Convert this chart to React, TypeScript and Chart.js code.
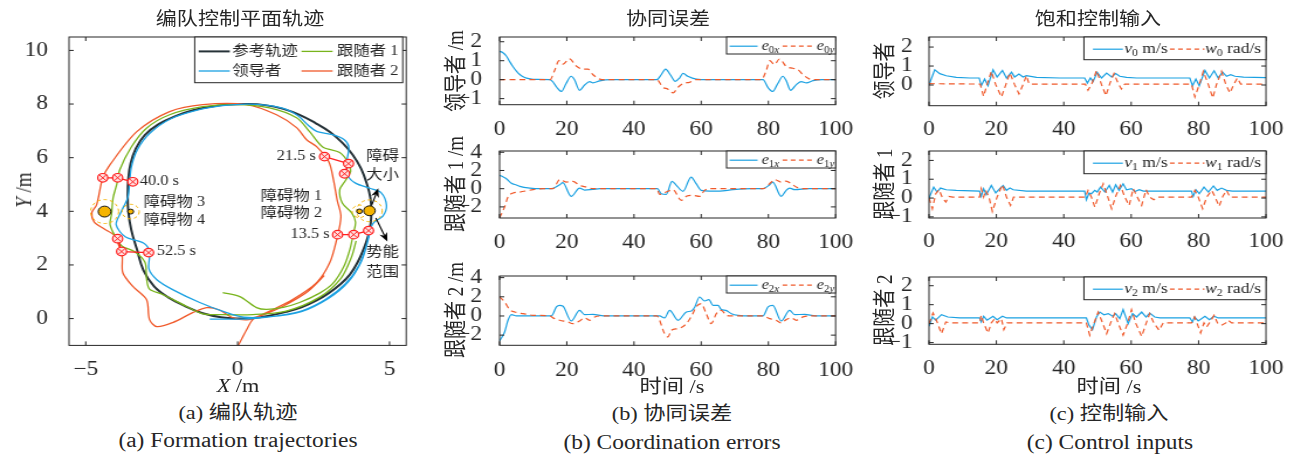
import React, { useEffect, useRef } from 'react';
import { Chart, registerables } from 'chart.js';

Chart.register(...registerables);

const S = 1.17;
const SERIF = '"Liberation Serif", "Noto Sans CJK SC", serif';
const INK = '#262626';
const BLUE = '#1ba1e2';
const ORANGE = '#f0592a';
const GREEN = '#78b41c';
const DARK = '#263238';
const RED = '#ff1f1f';
const GOLD = '#f5b400';

// ---------------- trajectories (X, Y in m) ----------------
const REF_TRAJ = [[0,0],[0.5,0.02],[1.0,0.1],[1.6,0.25],[2.1,0.42],[2.6,0.68],[3.0,0.95],[3.4,1.3],[3.7,1.65],[3.95,2.1],[4.15,2.6],[4.3,3.1],[4.38,3.55],[4.4,4.0],[4.37,4.5],[4.26,5.0],[4.06,5.6],[3.78,6.12],[3.45,6.55],[3.05,6.95],[2.55,7.3],[2.04,7.6],[1.5,7.82],[0.9,7.96],[0.3,8.0],[-0.3,7.98],[-0.9,7.9],[-1.5,7.76],[-2.05,7.55],[-2.6,7.25],[-3.05,6.85],[-3.35,6.35],[-3.52,5.8],[-3.6,5.2],[-3.62,4.6],[-3.6,4.0],[-3.5,3.3],[-3.32,2.6],[-3.1,1.8],[-2.75,1.2],[-2.3,0.8],[-1.7,0.45],[-1.15,0.2],[-0.55,0.05],[0,0]];
const LEADER_TRAJ = [[-0.92,-0.02],[-0.3,-0.02],[0.5,0.0],[1.3,0.1],[2.14,0.3],[2.9,0.72],[3.55,1.3],[4.0,2.0],[4.26,2.8],[4.34,3.25],[4.48,3.58],[4.78,3.82],[4.9,4.22],[4.72,4.7],[4.35,4.86],[3.88,5.05],[3.62,5.35],[3.6,5.9],[3.66,6.4],[3.5,6.68],[3.12,6.86],[2.62,6.97],[2.35,7.18],[2.0,7.55],[1.6,7.8],[1.0,7.95],[0.3,8.0],[-0.5,7.94],[-1.3,7.78],[-2.2,7.45],[-2.9,6.9],[-3.3,6.3],[-3.5,5.65],[-3.56,5.0],[-3.62,4.5],[-3.85,3.95],[-4.0,3.5],[-3.7,3.05],[-3.1,2.82],[-2.9,2.5],[-2.92,1.85],[-2.66,1.45],[-2.14,1.08],[-1.25,0.6],[-0.36,0.22],[0.2,0.05],[1.0,0.06],[2.1,0.26],[3.0,0.76],[3.65,1.38],[4.08,2.15],[4.3,2.95],[4.36,3.3]];
const F1_TRAJ = [[-0.49,0.97],[0.07,0.82],[0.62,0.41],[0.95,0.34],[1.5,0.42],[2.04,0.6],[2.7,0.95],[3.13,1.3],[3.5,1.95],[3.7,2.6],[3.8,3.13],[3.88,3.6],[3.75,3.95],[3.45,4.3],[3.36,4.8],[3.55,5.15],[3.72,5.5],[3.65,5.8],[3.36,6.19],[2.8,6.4],[2.37,6.97],[1.94,7.49],[1.05,7.86],[-0.03,7.98],[-1.15,7.9],[-2.24,7.6],[-3.0,7.1],[-3.5,6.4],[-3.88,5.55],[-3.98,5.0],[-4.1,4.5],[-4.15,3.9],[-4.2,3.5],[-4.0,3.0],[-3.8,2.7],[-3.4,2.5],[-3.05,2.1],[-3.0,1.5],[-2.9,1.1],[-2.47,0.9],[-1.68,0.45],[-1.15,0.18],[-0.6,0.15],[0.5,0.15],[1.6,0.28],[2.7,0.8],[3.4,1.5],[3.75,2.3],[3.9,2.9]];
const F2_TRAJ = [[0.02,-1.0],[0.3,-0.41],[0.5,-0.04],[0.95,0.22],[1.81,0.71],[2.6,1.34],[3.03,2.08],[3.25,2.9],[3.4,3.8],[3.28,4.4],[3.15,5.2],[3.0,5.85],[2.6,6.41],[2.27,6.67],[1.94,7.12],[1.28,7.6],[0.3,7.98],[-1.15,7.98],[-2.24,7.72],[-3.32,6.97],[-4.2,5.74],[-4.44,5.25],[-4.64,4.25],[-4.8,3.95],[-4.72,3.6],[-4.4,3.35],[-4.05,3.1],[-3.92,2.75],[-3.8,2.35],[-3.78,1.71],[-3.45,1.2],[-3.0,0.71],[-2.9,-0.04],[-2.66,-0.3],[-2.14,-0.15],[-1.48,0.22],[-1.02,0.41],[-0.6,0.32],[-0.2,0.05],[0.3,-0.05],[0.8,0.12],[1.48,0.45],[2.3,1.0],[2.85,1.6]];

// formation snapshots (follower 2, follower 1, leader)
const SNAP_13_5 = [[3.29,3.13],[3.82,3.13],[4.31,3.28]];
const SNAP_21_5 = [[2.86,6.04],[3.65,5.78],[3.52,5.4]];
const SNAP_40_0 = [[-4.44,5.25],[-3.95,5.25],[-3.45,5.1]];
const SNAP_52_5 = [[-3.95,2.98],[-3.82,2.5],[-2.93,2.46]];

// obstacles: centre x, y, radius, potential range (m)
const OBSTACLES = [[4.34,4.02,0.19,0.42],[4.01,4.0,0.09,0.24],[-4.38,3.99,0.21,0.46],[-3.52,3.99,0.095,0.28]];

const NOTES = [
  ['21.5 s', 2.57, 6.04, 'right'],
  ['13.5 s', 3.03, 3.13, 'right'],
  ['40.0 s', -3.22, 5.1, 'left'],
  ['52.5 s', -2.66, 2.5, 'left'],
  ['障碍物 3', -3.09, 4.32, 'left'],
  ['障碍物 4', -3.09, 3.65, 'left'],
  ['障碍物 1', 0.76, 4.55, 'left'],
  ['障碍物 2', 0.76, 3.91, 'left'],
  ['障碍', 4.77, 6.04, 'center'],
  ['大小', 4.77, 5.33, 'center'],
  ['势能', 4.77, 2.46, 'center'],
  ['范围', 4.77, 1.71, 'center'],
];
const ARROWS = [[4.42,4.25,4.63,4.86],[4.55,3.75,4.93,2.87]];

const TRAJ_X_TICKS = [-5, 0, 5];
const TRAJ_Y_TICKS = [0, 2, 4, 6, 8, 10];
const TIME_TICKS = [0, 20, 40, 60, 80, 100];

// ---------------- coordination errors (t [s], value [m]) ----------------
const E0X = [[0,1.5],[1,1.42],[2,1.25],[3,0.95],[4,0.68],[5,0.45],[6,0.27],[7,0.15],[8,0.08],[10,0.02],[15,0],[16,-0.15],[17,-0.4],[18.4,-0.62],[19.8,-0.2],[21.3,0.18],[22.3,0.0],[23.8,-0.56],[25.3,-0.28],[26.8,-0.1],[27.8,-0.17],[29.8,-0.06],[33,0],[46.8,0],[48.1,0.26],[49.4,0.56],[50.8,0.26],[52.3,-0.09],[53.6,0.1],[54.6,0.33],[56,0.18],[58.5,0.03],[62,0],[78.4,0],[79.9,-0.42],[81.3,-0.62],[82.8,-0.2],[84.3,0.18],[85.3,-0.05],[86.6,-0.56],[88.3,-0.26],[89.8,-0.1],[91.3,-0.17],[93.3,-0.05],[96,0],[100,0]];
const E0Y = [[0,0],[15,0],[16.4,0.5],[17.7,1.0],[18.9,0.82],[20.8,1.1],[22.8,0.72],[24.8,0.55],[26.3,0.56],[27.8,0.26],[29.8,0.03],[31,0],[46.8,0],[48.6,-0.4],[50.1,-0.5],[51.6,-0.7],[53.1,-0.4],[54.6,-0.2],[56.5,-0.14],[58.5,0],[77.9,0],[79.4,0.5],[80.4,1.0],[81.8,0.8],[83.3,1.09],[85.3,0.7],[87.3,0.6],[88.8,0.52],[90.3,0.26],[92.3,0.03],[93.5,0],[100,0]];
const E1X = [[0,1.47],[1,1.3],[2,1.1],[3.5,0.6],[5,0.4],[6,0.26],[9,0.07],[12,0],[15.4,0],[17.9,0.44],[18.8,0.66],[21.3,-0.84],[23.8,0.07],[25.3,-0.15],[27.8,-0.07],[30,0],[47,0],[48.1,-0.55],[49.6,-0.62],[51.3,0.8],[52.6,0.37],[54.6,-0.29],[57,1.28],[58.5,0.55],[60,-0.18],[62.5,-0.26],[65.5,-0.26],[69.4,-0.11],[75,0],[78.4,0],[80.4,0.44],[81.3,0.73],[83.8,-0.84],[85.3,-0.18],[86.3,0.07],[87.8,-0.11],[92,0],[100,0]];
const E1Y = [[0,-3.2],[1.5,-2.0],[2.5,-0.9],[4,-0.48],[6,-0.37],[10,-0.11],[13,0],[15.9,0],[17.9,1.0],[19.8,0.73],[21.8,0.8],[23.8,0.37],[25.8,0.18],[27.8,0],[46.8,0],[47.6,-0.62],[49.6,-0.37],[51.6,-0.11],[54.1,-1.28],[55.6,-0.84],[57.5,-0.73],[59.5,-0.84],[61,-0.18],[62.5,0],[78.4,0],[80.9,0.73],[81.8,1.0],[83.8,0.73],[85.3,0.84],[86.8,0.55],[88.3,0.18],[90.3,0],[100,0]];
const E2X = [[0,-2.6],[1.5,-1.67],[2.5,-0.45],[3.5,0.14],[5,0],[15.4,0],[16.9,0.94],[17.9,1.1],[18.8,1.04],[21.3,-0.52],[23.8,0.59],[25.3,0.14],[27.8,0.17],[31,0],[47.6,0],[49.1,-0.2],[50.6,0.59],[53.1,-0.45],[55.6,0.42],[57.1,0.52],[58.1,0.94],[59.5,1.98],[61,1.56],[62.3,1.7],[63.5,1.1],[65,1.1],[66,0.66],[67.3,0.59],[69,0.24],[71,0.07],[75,0],[78.4,0],[79.9,0.94],[81.3,1.1],[83.8,-0.52],[86.3,0.59],[87.8,0.14],[90.8,0.17],[94,0],[100,0]];
const E2Y = [[0,2.0],[1.5,1.46],[3,0.66],[4.5,0.42],[7,0.24],[10,0.07],[15,0],[15.9,-0.2],[17.9,-0.45],[20.3,-0.62],[21.8,-0.8],[23.8,-0.52],[25.3,-0.2],[26.8,-0.45],[28.3,-0.1],[30,0],[46.8,0],[49.1,-1.84],[50.1,-2.19],[51.1,-1.49],[53.1,-1.32],[55.6,-0.8],[57.5,0.24],[58.5,0.94],[60,1.28],[61.5,0.24],[63,-0.8],[64.5,0.24],[66,0.59],[67.5,0.07],[69,0],[78.4,0],[80.4,-0.28],[82.3,-0.45],[83.8,-0.73],[85.3,-0.38],[86.8,-0.2],[88.3,-0.45],[90.3,-0.1],[92,0],[100,0]];

// ---------------- saturated control inputs (t [s], v [m/s], w [rad/s]) ----------------
const V0 = [[0,0],[1.7,0.8],[3.2,0.6],[5.1,0.49],[8.1,0.4],[12.1,0.37],[14.9,0.37],[15.5,-0.04],[16.5,0.32],[17.5,-0.04],[19,0.8],[20.2,0.42],[21.8,0.77],[23,0.37],[24.5,0.68],[25.4,0.42],[26.7,0.58],[27.9,0.42],[28.9,0.49],[31.9,0.4],[38.8,0.37],[46.2,0.37],[47,0.1],[47.9,0.37],[48.7,0.19],[49.9,0.67],[51.2,0.37],[52.7,0.63],[54.2,0.42],[55.4,0.6],[56.6,0.46],[58.6,0.4],[61.6,0.37],[77.4,0.37],[78.2,-0.04],[79.2,0.32],[80.2,-0.04],[81.9,0.77],[83.2,0.37],[84.6,0.75],[85.8,0.37],[87.1,0.68],[88.3,0.46],[89.5,0.54],[90.8,0.46],[93.3,0.42],[100,0.39]];
const W0 = [[0,0.07],[15.2,0.05],[16.2,-0.6],[17.2,0.02],[18.5,0.72],[19.8,0.02],[21.5,-0.63],[22.8,0.02],[24,0.63],[25.4,0.02],[26.7,-0.47],[27.9,0.02],[28.9,0.49],[29.7,0.05],[46.4,0.05],[47.2,-0.28],[48.4,0.1],[49.7,0.77],[51.2,0.02],[52.5,-0.56],[53.7,0.1],[54.9,0.6],[56.1,0.1],[57.1,-0.21],[58.1,0.05],[77.9,0.05],[78.9,-0.63],[80.2,0.02],[81.4,0.72],[82.9,0.02],[84.2,-0.68],[85.3,0.02],[86.8,0.72],[88.1,0.02],[89.3,-0.42],[90.5,0.05],[91.5,0.37],[92.5,0.05],[100,0.05]];
const V1 = [[0,0],[1.4,0.58],[2.4,0.32],[3.4,0.53],[5.1,0.44],[8.1,0.41],[15,0.37],[15.5,0.09],[16.2,0.5],[17,0.18],[18.5,0.67],[19.8,0.27],[21,0.5],[22,0.67],[23,0.41],[24,0.53],[25,0.44],[28.9,0.37],[46.2,0.37],[46.7,-0.09],[47.5,0.27],[48.2,0.23],[49.2,0.41],[49.9,0.32],[50.9,0.58],[52.2,0.32],[53.5,0.67],[54.5,0.32],[55.4,0.71],[56.4,0.41],[57.6,0.76],[58.6,0.44],[60.1,0.5],[61.1,0.35],[62.4,0.44],[63.6,0.37],[77.9,0.37],[78.4,0.09],[79.2,0.44],[80.2,0.23],[81.6,0.58],[82.9,0.32],[84.4,0.64],[85.5,0.41],[86.8,0.53],[88.3,0.41],[90,0.37],[100,0.37]];
const W1 = [[0,0],[1,-0.57],[2,0.23],[3,0.44],[4,0],[5,-0.21],[5.9,0.09],[7,0.05],[15,0.05],[15.5,0.5],[16.2,0.05],[16.8,0.41],[17.8,0.05],[18.8,-0.71],[20.2,0.05],[21.8,0.71],[23,0.05],[24.2,-0.39],[25.1,0.05],[46.4,0.05],[47.2,0.41],[48.2,0.05],[49.2,-0.48],[50.5,0.23],[51.7,0.76],[52.9,0.14],[54.2,-0.57],[55.5,0.14],[56.8,0.67],[58.1,0.05],[59.4,-0.39],[60.6,0.5],[61.8,0.05],[63.1,-0.39],[64.4,0.44],[65.5,0.05],[66.7,-0.09],[68,0.05],[77.9,0.05],[78.9,0.41],[79.9,0.05],[81.2,-0.57],[82.4,0.05],[83.9,0.41],[84.9,0.05],[86.1,-0.44],[87.2,0.1],[88.3,0.41],[89.3,0.05],[100,0.05]];
const V2 = [[0,-0.14],[1,0.35],[2,0.18],[3.7,0.47],[5.6,0.35],[9.1,0.3],[15,0.3],[15.5,0.09],[16.2,0.39],[17.2,0.18],[19,0.39],[20.2,0.21],[21.8,0.39],[23,0.3],[46.7,0.3],[47.5,-0.09],[48.5,-0.32],[49.7,0.35],[50.7,0.61],[51.9,0.47],[53.2,0.53],[54.5,0.39],[55.4,0.53],[56.6,0.26],[57.6,0.74],[59.1,0],[60.4,0.53],[61.6,0.35],[63.1,0.61],[64.4,0.35],[65.5,0.56],[67,0.35],[68.5,0.3],[77.4,0.3],[78.2,0.09],[78.8,0.35],[79.9,0.14],[81.9,0.39],[83.2,0.21],[84.6,0.39],[85.8,0.3],[100,0.3]];
const W2 = [[0,0],[1.2,0.56],[2.4,0.09],[3.7,-0.53],[5,0.09],[6.1,0.04],[15,0.04],[15.5,0.44],[16.2,0.04],[17.5,-0.49],[18.5,0.04],[19.5,0.26],[20.2,0.04],[21.5,0.26],[22.2,-0.32],[23.2,0.04],[46.7,0.04],[47.7,-0.61],[49,0.04],[50.2,0.61],[51.5,0.04],[52.7,-0.53],[53.9,0.04],[55.1,0.53],[56.4,-0.09],[57.6,-0.61],[58.9,0.0],[60.1,0.74],[61.4,0.0],[63.1,-0.67],[64.4,0.0],[65.5,0.53],[66.7,0.04],[68.3,-0.35],[69.5,0.04],[77.9,0.04],[78.8,0.35],[79.5,0.04],[80.6,-0.49],[81.6,0.04],[82.4,-0.18],[83.2,0.04],[84.6,0.44],[85.6,0.04],[86.8,-0.09],[88.1,0.04],[88.8,0.18],[89.8,0.04],[100,0.04]];

// ---------------- helpers ----------------
const toXY = (a: number[][]) => a.map(([x, y]) => ({ x, y }));
const fmt = (v: number) => (v < 0 ? '\u2212' + Math.abs(v) : String(v));

const boxPlugin = {
  id: 'matlabBox',
  afterDraw(chart: any) {
    const { ctx, chartArea: a, scales } = chart;
    const xs = scales.x, ys = scales.y;
    const L = 4;
    ctx.save();
    ctx.strokeStyle = INK;
    ctx.lineWidth = 1;
    ctx.beginPath();
    xs.ticks.forEach((t: any) => {
      const p = xs.getPixelForValue(t.value);
      ctx.moveTo(p, a.bottom); ctx.lineTo(p, a.bottom - L);
      ctx.moveTo(p, a.top); ctx.lineTo(p, a.top + L);
    });
    ys.ticks.forEach((t: any) => {
      const p = ys.getPixelForValue(t.value);
      ctx.moveTo(a.left, p); ctx.lineTo(a.left + L, p);
      ctx.moveTo(a.right, p); ctx.lineTo(a.right - L, p);
    });
    ctx.stroke();
    ctx.strokeRect(a.left, a.top, a.right - a.left, a.bottom - a.top);
    ctx.restore();
  },
};

function legendPlugin(spec: any) {
  return {
    id: 'boxLegend',
    afterDraw(chart: any) {
      const { ctx, chartArea: a } = chart;
      const bx = a.right - spec.right - spec.w;
      const by = a.top + spec.top;
      ctx.save();
      ctx.fillStyle = '#fff';
      ctx.fillRect(bx, by, spec.w, spec.h);
      ctx.strokeStyle = INK;
      ctx.lineWidth = 1;
      ctx.strokeRect(bx, by, spec.w, spec.h);
      spec.items.forEach((it: any) => {
        const y = by + it.y;
        ctx.strokeStyle = it.color;
        ctx.lineWidth = it.lw;
        ctx.setLineDash(it.dash || []);
        ctx.beginPath();
        ctx.moveTo(bx + it.sx, y);
        ctx.lineTo(bx + it.sx + it.len, y);
        ctx.stroke();
        ctx.setLineDash([]);
        let cx = bx + it.tx;
        ctx.fillStyle = INK;
        ctx.textBaseline = 'middle';
        ctx.textAlign = 'left';
        it.segs.forEach((sg: any) => {
          const size = sg.sub ? spec.sub : spec.size;
          ctx.font = `${sg.it ? 'italic ' : ''}${size}px ${SERIF}`;
          ctx.fillText(sg.t, cx, y + (sg.sub ? spec.size * 0.3 : 0));
          cx += ctx.measureText(sg.t).width;
        });
      });
      ctx.restore();
    },
  };
}

const trajAnnotations = {
  id: 'trajAnnotations',
  afterDatasetsDraw(chart: any) {
    const { ctx, scales } = chart;
    const xs = scales.x, ys = scales.y;
    const px = (v: number) => xs.getPixelForValue(v);
    const py = (v: number) => ys.getPixelForValue(v);
    ctx.save();
    OBSTACLES.forEach(([ox, oy, r, rr]) => {
      const cx = px(ox), cy = py(oy);
      const R = Math.abs(px(ox + rr) - cx);
      ctx.setLineDash([3, 2.5]);
      ctx.strokeStyle = GOLD;
      ctx.lineWidth = 1;
      ctx.beginPath();
      ctx.arc(cx, cy, R, 0, Math.PI * 2);
      ctx.stroke();
    });
    ctx.setLineDash([]);
    OBSTACLES.forEach(([ox, oy, r]) => {
      const cx = px(ox), cy = py(oy);
      const R = Math.abs(px(ox + r) - cx);
      ctx.fillStyle = GOLD;
      ctx.strokeStyle = '#111';
      ctx.lineWidth = 1;
      ctx.beginPath();
      ctx.arc(cx, cy, R, 0, Math.PI * 2);
      ctx.fill();
      ctx.stroke();
    });
    ARROWS.forEach(([x0, y0, x1, y1]) => {
      const a0 = px(x0), b0 = py(y0), a1 = px(x1), b1 = py(y1);
      const ang = Math.atan2(b1 - b0, a1 - a0);
      const hl = 9, hw = 3.5;
      ctx.strokeStyle = '#000';
      ctx.fillStyle = '#000';
      ctx.lineWidth = 1.1;
      ctx.beginPath();
      ctx.moveTo(a0, b0);
      ctx.lineTo(a1 - Math.cos(ang) * hl * 0.7, b1 - Math.sin(ang) * hl * 0.7);
      ctx.stroke();
      ctx.beginPath();
      ctx.moveTo(a1, b1);
      ctx.lineTo(a1 - Math.cos(ang) * hl + Math.sin(ang) * hw, b1 - Math.sin(ang) * hl - Math.cos(ang) * hw);
      ctx.lineTo(a1 - Math.cos(ang) * hl * 0.7, b1 - Math.sin(ang) * hl * 0.7);
      ctx.lineTo(a1 - Math.cos(ang) * hl - Math.sin(ang) * hw, b1 - Math.sin(ang) * hl + Math.cos(ang) * hw);
      ctx.closePath();
      ctx.fill();
    });
    ctx.fillStyle = INK;
    ctx.font = `14px ${SERIF}`;
    ctx.textBaseline = 'middle';
    NOTES.forEach(([t, x, y, al]) => {
      ctx.textAlign = al as CanvasTextAlign;
      ctx.fillText(t as string, px(x as number), py(y as number));
    });
    ctx.restore();
  },
};

const lineDs = (data: number[][], color: string, width: number, dash: number[] = [], extra: any = {}) => ({
  data: toXY(data),
  showLine: true,
  borderColor: color,
  backgroundColor: color,
  borderWidth: width,
  borderDash: dash,
  pointRadius: 0,
  fill: false,
  ...extra,
});
const snapLine = (data: number[][]) => ({
  data: toXY(data),
  showLine: true,
  borderColor: RED,
  borderWidth: 1.3,
  pointRadius: 4.3,
  pointStyle: 'circle',
  pointBorderColor: RED,
  pointBackgroundColor: '#ffe0e0',
  pointBorderWidth: 1.2,
});
const snapCross = (data: number[][]) => ({
  data: toXY(data),
  showLine: false,
  pointRadius: 4.2,
  pointStyle: 'crossRot',
  pointBorderColor: RED,
  pointBorderWidth: 1,
});

type Spec = {
  L: number; T: number; R: number; B: number;
  xMin: number; xMax: number; yMin: number; yMax: number;
  xTicks: number[]; yTicks: number[]; xPad: number; yPad: number;
  datasets: () => any[]; legend: any; extra?: any[];
};

const YW = 50, PT = 22, XH = 36;

function geom(s: Spec) {
  const plotW = (s.R - s.L) / S;
  const plotH = s.B - s.T;
  const left = s.L / S - YW;
  const top = s.T - PT;
  const w = Math.ceil(YW + plotW + 30);
  const pr = w - YW - plotW;
  const h = Math.ceil(PT + plotH + XH + 4);
  const pb = h - PT - plotH - XH;
  return { left, top, w, h, pr, pb };
}

function makeConfig(s: Spec): any {
  const g = geom(s);
  const tickFont = { family: SERIF, size: 20 };
  return {
    type: 'scatter',
    data: { datasets: s.datasets() },
    options: {
      animation: false,
      responsive: false,
      events: [],
      layout: { padding: { left: 0, top: PT, right: g.pr, bottom: g.pb }, autoPadding: false },
      plugins: { legend: { display: false }, tooltip: { enabled: false }, title: { display: false } },
      scales: {
        x: {
          type: 'linear', min: s.xMin, max: s.xMax,
          afterBuildTicks: (sc: any) => { sc.ticks = s.xTicks.map((v) => ({ value: v })); },
          afterFit: (sc: any) => { sc.height = XH; },
          grid: { display: false }, border: { display: false },
          ticks: { font: tickFont, color: INK, padding: s.xPad, maxRotation: 0, autoSkip: false, callback: (v: any) => fmt(Number(v)) },
        },
        y: {
          type: 'linear', min: s.yMin, max: s.yMax,
          afterBuildTicks: (sc: any) => { sc.ticks = s.yTicks.map((v) => ({ value: v })); },
          afterFit: (sc: any) => { sc.width = YW; },
          grid: { display: false }, border: { display: false },
          ticks: { font: tickFont, color: INK, padding: s.yPad, autoSkip: false, callback: (v: any) => fmt(Number(v)) },
        },
      },
    },
    plugins: [...(s.extra || []), boxPlugin, legendPlugin(s.legend)],
  };
}

const trajLegend = {
  w: 177.8, h: 45.7, right: 3, top: 0, size: 14, sub: 10,
  items: [
    { sx: 3.4, len: 26.6, tx: 32, y: 14.4, color: DARK, lw: 2, segs: [{ t: '参考轨迹' }] },
    { sx: 91.3, len: 26.6, tx: 121.5, y: 14.4, color: GREEN, lw: 1.3, segs: [{ t: '跟随者 1' }] },
    { sx: 3.4, len: 26.6, tx: 32, y: 34, color: BLUE, lw: 1.3, segs: [{ t: '领导者' }] },
    { sx: 91.3, len: 26.6, tx: 121.5, y: 34, color: ORANGE, lw: 1.3, segs: [{ t: '跟随者 2' }] },
  ],
};
const errLegend = (k: string) => ({
  w: 93.2, h: 17, right: 0, top: 0, size: 14, sub: 9.5,
  items: [
    { sx: 2.6, len: 23.9, tx: 29.9, y: 9.2, color: BLUE, lw: 1.2, segs: [{ t: 'e', it: true }, { t: k, sub: true }, { t: 'x', sub: true, it: true }] },
    { sx: 47.9, len: 27.3, tx: 77, y: 9.2, color: ORANGE, lw: 1.2, dash: [4, 3], segs: [{ t: 'e', it: true }, { t: k, sub: true }, { t: 'y', sub: true, it: true }] },
  ],
});
const ctlLegend = (k: string) => ({
  w: 155.6, h: 22.7, right: 0, top: 0, size: 15, sub: 10,
  items: [
    { sx: 7.7, len: 25.6, tx: 34.5, y: 12.2, color: BLUE, lw: 1.2, segs: [{ t: 'v', it: true }, { t: k, sub: true }, { t: ' m/s' }] },
    { sx: 73.5, len: 29.5, tx: 103.6, y: 12.2, color: ORANGE, lw: 1.2, dash: [4, 3], segs: [{ t: 'w', it: true }, { t: k, sub: true }, { t: ' rad/s' }] },
  ],
});

const errSeries = (x: number[][], y: number[][]) => () => [
  lineDs(y, ORANGE, 1.2, [5, 3.5], { cubicInterpolationMode: 'monotone' }),
  lineDs(x, BLUE, 1.2, [], { cubicInterpolationMode: 'monotone' }),
];
const ctlSeries = (v: number[][], w: number[][]) => () => [
  lineDs(w, ORANGE, 1.2, [5, 3.5]),
  lineDs(v, BLUE, 1.2),
];

const SPECS: Spec[] = [
  {
    L: 69.3, T: 37.3, R: 406.5, B: 345.7, xMin: -5.55, xMax: 5.55, yMin: -1, yMax: 10.5,
    xTicks: TRAJ_X_TICKS, yTicks: TRAJ_Y_TICKS, xPad: 4, yPad: 10,
    datasets: () => [
      snapCross(SNAP_13_5), snapCross(SNAP_21_5), snapCross(SNAP_40_0), snapCross(SNAP_52_5),
      snapLine(SNAP_13_5), snapLine(SNAP_21_5), snapLine(SNAP_40_0), snapLine(SNAP_52_5),
      lineDs(LEADER_TRAJ, BLUE, 1.3, [], { tension: 0.3 }),
      lineDs(F1_TRAJ, GREEN, 1.3, [], { tension: 0.3 }),
      lineDs(F2_TRAJ, ORANGE, 1.3, [], { tension: 0.3 }),
      lineDs(REF_TRAJ, DARK, 2, [], { tension: 0.4 }),
    ],
    legend: trajLegend,
    extra: [trajAnnotations],
  },
  { L: 500, T: 37.3, R: 836, B: 105, xMin: 0, xMax: 100, yMin: -1.32, yMax: 2.25, xTicks: TIME_TICKS, yTicks: [-1, 0, 1, 2], xPad: 5, yPad: 7, datasets: errSeries(E0X, E0Y), legend: errLegend('0') },
  { L: 500, T: 150.7, R: 836, B: 217.7, xMin: 0, xMax: 100, yMin: -3.22, yMax: 4.14, xTicks: TIME_TICKS, yTicks: [-2, 0, 2, 4], xPad: 5, yPad: 7, datasets: errSeries(E1X, E1Y), legend: errLegend('1') },
  { L: 500, T: 275.7, R: 836, B: 345, xMin: 0, xMax: 100, yMin: -3.06, yMax: 4.17, xTicks: TIME_TICKS, yTicks: [-2, 0, 2, 4], xPad: 5, yPad: 7, datasets: errSeries(E2X, E2Y), legend: errLegend('2') },
  { L: 929, T: 37.3, R: 1266, B: 106, xMin: 0, xMax: 100, yMin: -1.09, yMax: 2.53, xTicks: TIME_TICKS, yTicks: [0, 1, 2], xPad: 4, yPad: 6, datasets: ctlSeries(V0, W0), legend: ctlLegend('0') },
  { L: 929, T: 150.7, R: 1266, B: 217.7, xMin: 0, xMax: 100, yMin: -1.06, yMax: 2.5, xTicks: TIME_TICKS, yTicks: [-1, 0, 1, 2], xPad: 4, yPad: 6, datasets: ctlSeries(V1, W1), legend: ctlLegend('1') },
  { L: 929, T: 276.7, R: 1266, B: 344, xMin: 0, xMax: 100, yMin: -1.09, yMax: 2.46, xTicks: TIME_TICKS, yTicks: [-1, 0, 1, 2], xPad: 4, yPad: 6, datasets: ctlSeries(V2, W2), legend: ctlLegend('2') },
];

// text placed in page coordinates (x measured after the horizontal stretch)
const TEXTS: { t: React.ReactNode; cx: number; cy: number; fs: number; rot?: boolean }[] = [
  { t: '编队控制平面轨迹', cx: 240, cy: 19, fs: 18 },
  { t: '协同误差', cx: 668, cy: 19, fs: 18 },
  { t: '饱和控制输入', cx: 1098, cy: 19, fs: 18 },
  { t: <><i>X</i> /m</>, cx: 238, cy: 385, fs: 19 },
  { t: '时间 /s', cx: 672, cy: 386, fs: 19 },
  { t: '时间 /s', cx: 1109, cy: 386, fs: 19 },
  { t: '(a) 编队轨迹', cx: 238, cy: 412, fs: 19 },
  { t: '(a) Formation trajectories', cx: 238, cy: 440, fs: 20 },
  { t: '(b) 协同误差', cx: 672, cy: 413, fs: 19 },
  { t: '(b) Coordination errors', cx: 672, cy: 442, fs: 20 },
  { t: '(c) 控制输入', cx: 1109, cy: 413, fs: 19 },
  { t: '(c) Control inputs', cx: 1110, cy: 442, fs: 20 },
  { t: <><i>Y</i> /m</>, cx: 23, cy: 190, fs: 19, rot: true },
  { t: '领导者 /m', cx: 455, cy: 71, fs: 19, rot: true },
  { t: '跟随者 1 /m', cx: 455, cy: 184, fs: 19, rot: true },
  { t: '跟随者 2 /m', cx: 455, cy: 310, fs: 19, rot: true },
  { t: '领导者', cx: 885, cy: 71, fs: 19, rot: true },
  { t: '跟随者 1', cx: 885, cy: 184, fs: 19, rot: true },
  { t: '跟随者 2', cx: 885, cy: 310, fs: 19, rot: true },
];

function ChartBox({ spec }: { spec: Spec }) {
  const ref = useRef<HTMLCanvasElement>(null);
  const g = geom(spec);
  useEffect(() => {
    const chart = new Chart(ref.current as HTMLCanvasElement, makeConfig(spec));
    return () => chart.destroy();
  }, [spec]);
  return (
    <canvas
      ref={ref}
      width={g.w}
      height={g.h}
      style={{ position: 'absolute', left: g.left, top: g.top, width: g.w, height: g.h }}
    />
  );
}

export default function App() {
  return (
    <div
      style={{
        position: 'fixed', left: 0, top: 0, width: 1293 / S, height: 457,
        transform: `scaleX(${S})`, transformOrigin: '0 0', background: '#fff',
        fontFamily: SERIF, color: INK, overflow: 'hidden',
      }}
    >
      {SPECS.map((s, i) => <ChartBox key={i} spec={s} />)}
      {TEXTS.map((tx, i) => (
        <div
          key={'t' + i}
          style={{
            position: 'absolute', left: tx.cx / S, top: tx.cy, fontSize: tx.fs, lineHeight: 1,
            whiteSpace: 'nowrap',
            transform: tx.rot ? 'translate(-50%,-50%) rotate(-90deg)' : 'translate(-50%,-50%)',
          }}
        >
          {tx.t}
        </div>
      ))}
    </div>
  );
}
